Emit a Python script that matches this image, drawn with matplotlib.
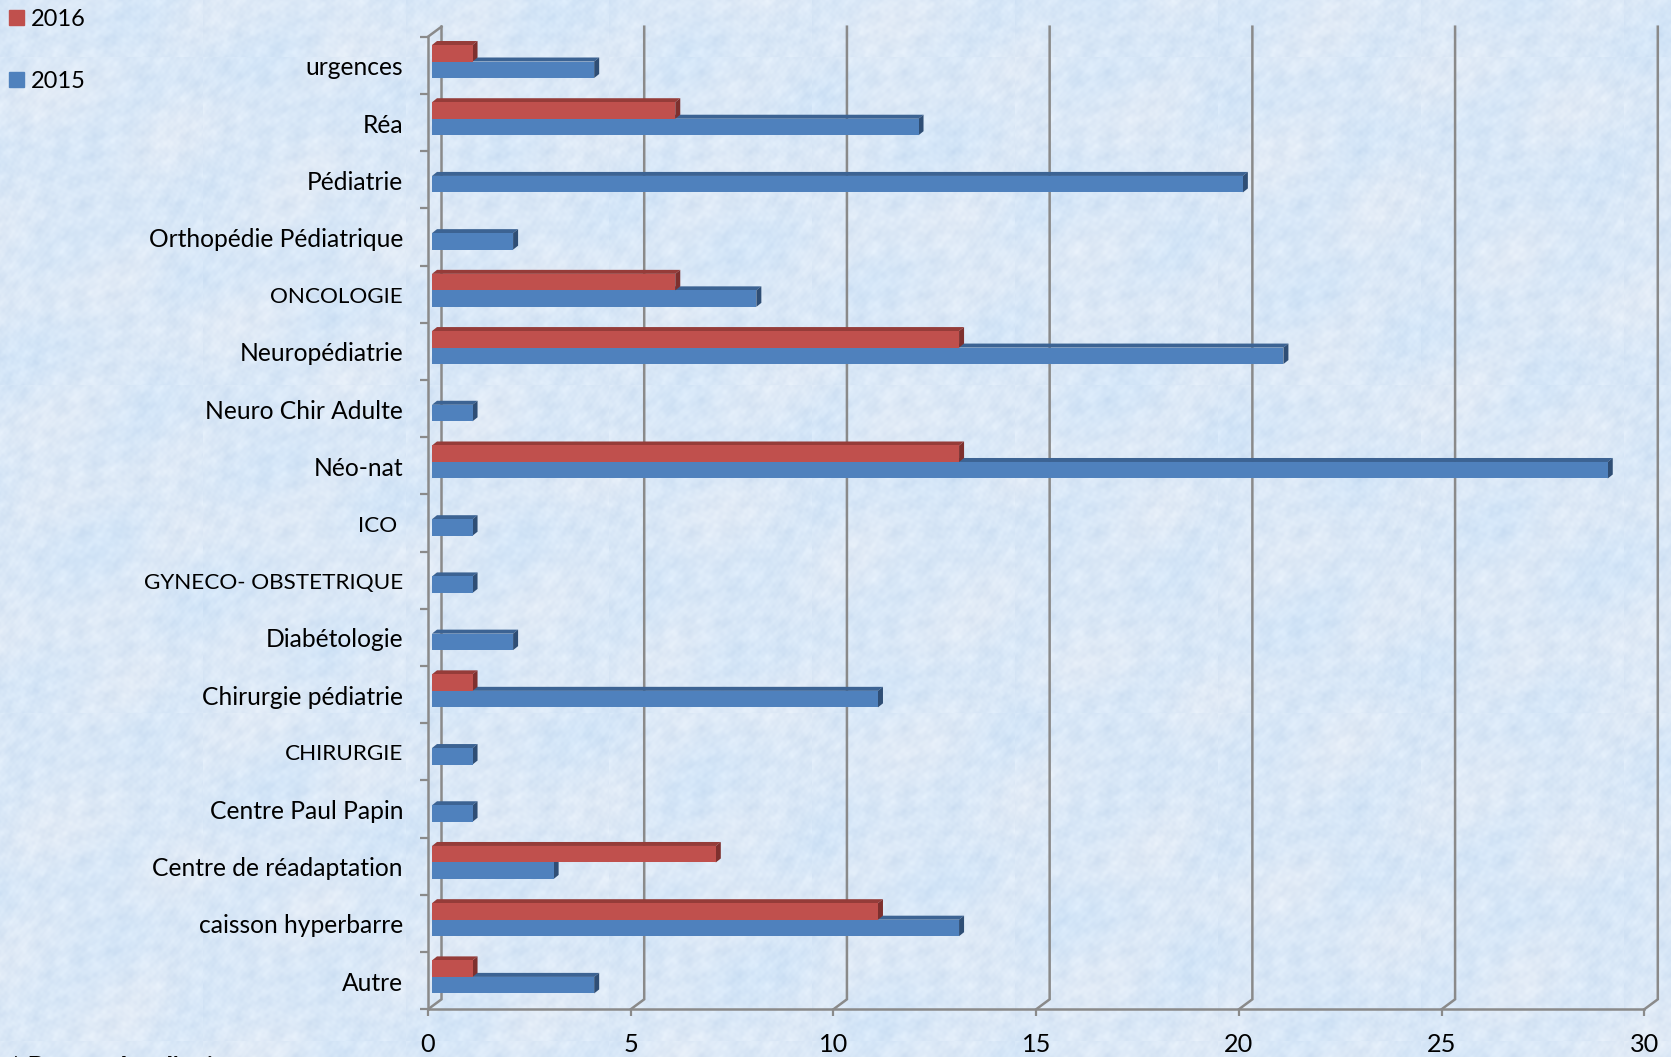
import numpy as np
import matplotlib
matplotlib.use('Agg')
import matplotlib.pyplot as plt
from matplotlib.patches import Patch
from matplotlib.transforms import ScaledTranslation

W, H = 1671, 1057

services = ['urgences', 'Réa', 'Pédiatrie', 'Orthopédie Pédiatrique', 'ONCOLOGIE',
            'Neuropédiatrie', 'Neuro Chir Adulte', 'Néo-nat', 'ICO ',
            'GYNECO- OBSTETRIQUE', 'Diabétologie', 'Chirurgie pédiatrie',
            'CHIRURGIE', 'Centre Paul Papin', 'Centre de réadaptation',
            'caisson hyperbarre', 'Autre']
values_2016 = [1, 6, 0, 0, 6, 13, 0, 13, 0, 0, 0, 1, 0, 0, 7, 11, 1]
values_2015 = [4, 12, 20, 2, 8, 21, 1, 29, 1, 1, 2, 11, 1, 1, 3, 13, 4]
x_ticks = [0, 5, 10, 15, 20, 25, 30]

RED = '#C0504D'
RED_TOP = '#953C39'
RED_SIDE = '#7E302E'
BLUE = '#4F81BD'
BLUE_TOP = '#3C6393'
BLUE_SIDE = '#2F4E75'
GRID = '#8A8A8A'

# front plane of the fake 3D box, in image pixels
LEFT, RIGHT, TOP, BOTTOM = 428.0, 1644.3, 36.7, 1009.3


def waves(xx, yy, spec):
    out = np.zeros_like(xx)
    for length, angle, phase in spec:
        t = np.radians(angle)
        warp = 6 * np.sin(yy / 31.7 + phase) + 6 * np.cos(xx / 27.3 - 1.7 * phase)
        out += np.sin(2 * np.pi * (xx * np.cos(t) + yy * np.sin(t) + warp) / length + phase)
    return out / np.sqrt(len(spec))


def background():
    # soft mottled paper, a 203x328 tile repeated so that faint seams show
    yy, xx = np.mgrid[0:328, 0:203].astype(float)
    fine = waves(xx, yy, [(7.3, 15, 0.4), (8.9, 75, 1.9), (6.1, 130, 2.7), (10.7, 165, 4.1),
                          (5.3, 40, 5.2), (12.1, 105, 0.9), (9.7, 52, 3.4)])
    mid = waves(xx, yy, [(21, 25, 1.1), (27, 95, 3.3), (33, 150, 0.2), (17, 60, 4.6), (43, 5, 2.4)])
    ny, nx = H // 328 + 2, W // 203 + 2
    start = 328 - 57
    fine = np.tile(fine, (ny, nx))[start:start + H, :W]
    mid = np.tile(mid, (ny, nx))[start:start + H, :W]
    # broad colour drift over the whole slide, not tiled
    yy, xx = np.mgrid[0:H, 0:W].astype(float)
    broad = waves(xx, yy, [(130, 20, 0.9), (170, 110, 2.2), (95, 65, 3.9)])
    img = np.zeros((H, W, 3))
    img[..., 0] = 218 + 2.2 * fine + 4.0 * mid - 4.0 * broad
    img[..., 1] = 232 + 1.9 * fine + 3.0 * mid - 1.5 * broad
    img[..., 2] = 247 + 1.0 * fine + 1.8 * mid + 0.5 * broad
    return np.clip(img, 0, 255).astype(np.uint8)


fig = plt.figure(figsize=(W / 100, H / 100), dpi=100)
plt.rcParams['font.family'] = ['Lato', 'DejaVu Sans']

bg = fig.add_axes([0, 0, 1, 1], zorder=0)
bg.imshow(background(), aspect='auto', interpolation='bilinear')
bg.axis('off')

ax = fig.add_axes([LEFT / W, 1 - BOTTOM / H, (RIGHT - LEFT) / W, (BOTTOM - TOP) / H], zorder=1)
ax.patch.set_alpha(0)
ax.set_xlim(0, 30)
ax.set_ylim(len(services), 0)

px_x = 30 / (RIGHT - LEFT)
px_y = len(services) / (BOTTOM - TOP)
wall_dx, wall_dy = 13.5 * px_x, 10 * px_y
bar_h = 16.5 * px_y
bar_x0 = 4 * px_x
side_dx, side_dy = 5 * px_x, 4 * px_y
shift = 3.8 * px_y

# back wall and floor
for v in x_ticks:
    ax.plot([v + wall_dx, v + wall_dx, v], [0 - wall_dy, len(services) - wall_dy, len(services)],
            color=GRID, lw=1.8, clip_on=False, zorder=1, solid_joinstyle='miter')
ax.plot([0, wall_dx], [0, -wall_dy], color=GRID, lw=1.8, clip_on=False, zorder=1)


def draw_bars(values, centers, face, top, side):
    for v, c in zip(values, centers):
        if v == 0:
            continue
        x1 = bar_x0 + v
        y0 = c - bar_h / 2
        y1 = c + bar_h / 2
        ax.fill([bar_x0, x1, x1 + side_dx, bar_x0 + side_dx], [y0, y0, y0 - side_dy, y0 - side_dy],
                color=top, lw=0, clip_on=False, zorder=3)
        ax.fill([x1, x1 + side_dx, x1 + side_dx, x1], [y0, y0 - side_dy, y1 - side_dy, y1],
                color=side, lw=0, clip_on=False, zorder=3)
        ax.barh(c, v, left=bar_x0, height=bar_h, color=face, lw=0, zorder=3)


pos = np.arange(len(services)) + 0.5 - shift
draw_bars(values_2015, pos + bar_h / 2, BLUE, BLUE_TOP, BLUE_SIDE)
draw_bars(values_2016, pos - bar_h / 2, RED, RED_TOP, RED_SIDE)

# axes
for s in ['top', 'right']:
    ax.spines[s].set_visible(False)
for s in ['left', 'bottom']:
    ax.spines[s].set_color(GRID)
    ax.spines[s].set_linewidth(1.8)
ax.set_xticks(x_ticks)
ax.set_yticks(np.arange(len(services) + 1))
ax.set_yticklabels([])
ax.set_yticks(np.arange(len(services)) + 0.5, labels=services, minor=True)
ax.tick_params(axis='y', which='major', length=5.8, width=1.6, color=GRID)
ax.tick_params(axis='y', which='minor', length=0, pad=18, labelsize=17.7, labelcolor='black')
ax.tick_params(axis='x', length=5.2, width=1.6, color=GRID, pad=12, labelsize=18.2, labelcolor='black')

# Lato capitals run wider than the slide's font
nudge = ScaledTranslation(0, -0.5 / 100, fig.dpi_scale_trans)
for lab in ax.get_yticklabels(minor=True):
    if lab.get_text().isupper():
        lab.set_fontsize(16.2)
    lab.set_transform(lab.get_transform() + nudge)

handles = [Patch(color=RED, label='2016'), Patch(color=BLUE, label='2015')]
leg = fig.legend(handles=handles, loc='upper left', bbox_to_anchor=(0, 1), frameon=False,
                 fontsize=17.0, handlelength=0.63, handleheight=0.63, handletextpad=0.3,
                 labelspacing=1.73, borderaxespad=0, borderpad=0.38)

# footer, cut by the bottom edge as in the slide
fig.text(9 / W, 1 - 1055.6 / H, "* Demandes d'avis et", fontsize=20, fontweight='bold', style='italic',
         va='top', ha='left', color='black')

fig.savefig('out.png', dpi=100)
plt.close(fig)
